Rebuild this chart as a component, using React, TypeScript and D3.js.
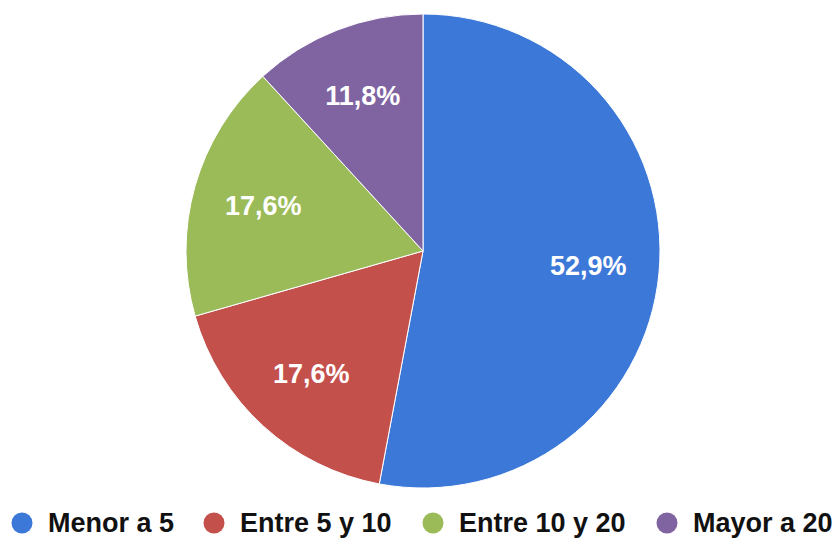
import React, { useEffect, useRef } from "react";
import * as d3 from "d3";

const categories = ["Menor a 5", "Entre 5 y 10", "Entre 10 y 20", "Mayor a 20"];
const values = [52.9, 17.6, 17.6, 11.8];
const labels = ["52,9%", "17,6%", "17,6%", "11,8%"];
const colors = ["#3c78d8", "#c4504c", "#9bbb59", "#8064a2"];

const width = 838;
const height = 539;

export default function App() {
  const svgRef = useRef<SVGSVGElement>(null);

  useEffect(() => {
    if (!svgRef.current) return;
    const svg = d3.select(svgRef.current);
    svg.selectAll("*").remove();

    const cx = 423;
    const cy = 251;
    const radius = 237;

    const pie = d3
      .pie<number>()
      .sort(null)
      .value((d) => d);
    const arc = d3.arc<d3.PieArcDatum<number>>().innerRadius(0).outerRadius(radius);
    const labelArc = d3
      .arc<d3.PieArcDatum<number>>()
      .innerRadius(radius * 0.7)
      .outerRadius(radius * 0.7);

    const g = svg.append("g").attr("transform", `translate(${cx},${cy})`);
    const arcs = pie(values);

    g.selectAll("path")
      .data(arcs)
      .enter()
      .append("path")
      .attr("d", arc)
      .attr("fill", (_, i) => colors[i])
      .attr("stroke", "#ffffff")
      .attr("stroke-width", 1);

    g.selectAll("text")
      .data(arcs)
      .enter()
      .append("text")
      .attr("transform", (d) => `translate(${labelArc.centroid(d)})`)
      .attr("text-anchor", "middle")
      .attr("dominant-baseline", "central")
      .attr("fill", "#ffffff")
      .attr("font-family", "Liberation Sans, Arial, sans-serif")
      .attr("font-weight", "bold")
      .attr("font-size", 27)
      .text((_, i) => labels[i]);

    // legend
    const legendX = [22, 214, 433, 667];
    const legend = svg
      .append("g")
      .selectAll("g")
      .data(categories)
      .enter()
      .append("g")
      .attr("transform", (_, i) => `translate(${legendX[i]},523)`);

    legend
      .append("circle")
      .attr("r", 10.5)
      .attr("fill", (_, i) => colors[i]);

    legend
      .append("text")
      .attr("x", 26)
      .attr("dominant-baseline", "central")
      .attr("font-family", "Liberation Sans, Arial, sans-serif")
      .attr("font-weight", "bold")
      .attr("font-size", 27)
      .attr("fill", "#111111")
      .text((d) => d);
  }, []);

  return (
    <svg
      ref={svgRef}
      width={width}
      height={height}
      style={{ position: "absolute", left: 0, top: 0, background: "#ffffff" }}
    />
  );
}
